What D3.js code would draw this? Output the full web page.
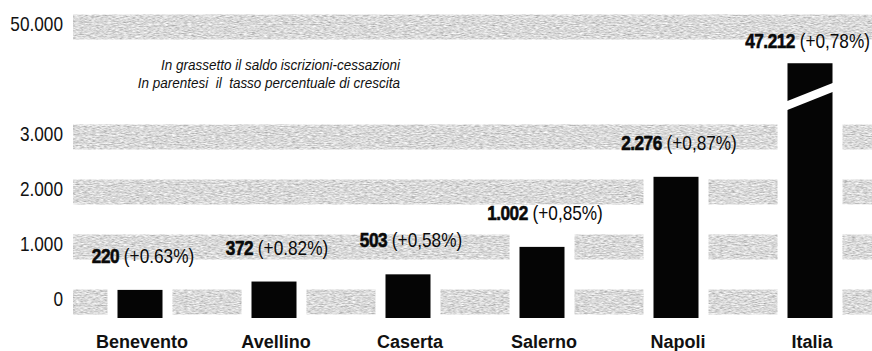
<!DOCTYPE html>
<html>
<head>
<meta charset="utf-8">
<script src="https://cdn.jsdelivr.net/npm/d3@7"></script>
<style>
  body { margin: 0; background: #fff; }
  svg { display: block; }
  text { font-family: "Liberation Sans", Arial, sans-serif; }
</style>
</head>
<body>
<div id="chart"></div>
<script>
const categories = ['Benevento', 'Avellino', 'Caserta', 'Salerno', 'Napoli', 'Italia'];
const saldo = [220, 372, 503, 1002, 2276, 47212];
const tasso = ['+0.63%', '+0.82%', '+0,58%', '+0,85%', '+0,87%', '+0,78%'];
const tickValues = [0, 1000, 2000, 3000, 50000];
const noteLines = [
    'In grassetto il saldo iscrizioni-cessazioni',
    'In parentesi  il  tasso percentuale di crescita'
];

const width = 872;
const height = 351;
const breakAt = 3000;
const narrow = 0.82;   // no condensed face installed, squeeze Liberation Sans

const it = d3.formatLocale({ decimal: ',', thousands: '.', grouping: [3], currency: ['', ' €'] });
const fmt = it.format(',');

const x = d3.scalePoint().domain(categories).range([140, 810]);
const yLow = d3.scaleLinear().domain([0, breakAt]).range([302, 137]);
const yHigh = d3.scaleLinear().domain([45000, 50000]).range([92, 27]);
const y = v => v > breakAt ? yHigh(v) : yLow(v);

const barWidth = 45;
const barBottom = yLow(0) + 16;
const bandHeight = 25;
const bandGap = 10;
const bandStart = 73;

const data = categories.map((c, i) => ({ name: c, value: saldo[i], rate: tasso[i] }));

const svg = d3.select('#chart')
    .append('svg')
    .attr('width', width)
    .attr('height', height);

// scanned grey texture for the bands
const filter = svg.append('defs').append('filter')
    .attr('id', 'grain')
    .attr('x', 0).attr('y', 0).attr('width', 1).attr('height', 1);
filter.append('feTurbulence')
    .attr('type', 'fractalNoise')
    .attr('baseFrequency', '0.25 0.9')
    .attr('numOctaves', 2)
    .attr('seed', 7)
    .attr('result', 'noise');
filter.append('feColorMatrix')
    .attr('in', 'noise')
    .attr('type', 'matrix')
    .attr('values', '0.85 0 0 0 0.27  0.85 0 0 0 0.27  0.85 0 0 0 0.27  0 0 0 0 1')
    .attr('result', 'grey');
filter.append('feComposite')
    .attr('in', 'grey')
    .attr('in2', 'SourceAlpha')
    .attr('operator', 'in');

// bands, broken where a bar passes through them
let segments = [];
tickValues.forEach(t => {
    let gaps = data.filter(d => d.value >= t)
        .map(d => [x(d.name) - barWidth / 2 - bandGap, x(d.name) + barWidth / 2 + bandGap])
        .sort((a, b) => a[0] - b[0]);
    let start = bandStart;
    gaps.forEach(g => {
        if (g[0] > start) segments.push({ t: t, x0: start, x1: g[0] });
        start = Math.max(start, g[1]);
    });
    if (start < width) segments.push({ t: t, x0: start, x1: width });
});

svg.append('g')
    .selectAll('rect')
    .data(segments)
    .enter().append('rect')
    .attr('x', d => d.x0)
    .attr('y', d => y(d.t) - bandHeight / 2)
    .attr('width', d => d.x1 - d.x0)
    .attr('height', bandHeight)
    .style('fill', '#bbb')
    .attr('filter', 'url(#grain)');

svg.append('g')
    .selectAll('text')
    .data(tickValues)
    .enter().append('text')
    .attr('transform', d => `translate(63,${y(d) + 4}) scale(${narrow},1)`)
    .attr('text-anchor', 'end')
    .style('font-size', '21px')
    .style('fill', '#111')
    .text(d => fmt(d));

// bars
svg.append('g')
    .selectAll('rect')
    .data(data)
    .enter().append('rect')
    .attr('x', d => x(d.name) - barWidth / 2)
    .attr('y', d => y(d.value))
    .attr('width', barWidth)
    .attr('height', d => barBottom - y(d.value))
    .style('fill', '#050505');

// axis break on the bars above the break value
const breakY = yHigh(45000) + 4.5;
svg.append('g')
    .selectAll('polygon')
    .data(data.filter(d => d.value > breakAt))
    .enter().append('polygon')
    .attr('points', d => {
        let l = x(d.name) - barWidth / 2 - 2;
        let r = x(d.name) + barWidth / 2 + 2;
        let rise = 0.4 * (r - l) / 2;
        return [
            [l, breakY + rise - 4.5], [r, breakY - rise - 4.5],
            [r, breakY - rise + 4.5], [l, breakY + rise + 4.5]
        ].join(' ');
    })
    .style('fill', '#fff');

// value labels
const labels = svg.append('g')
    .selectAll('text')
    .data(data)
    .enter().append('text')
    .attr('text-anchor', 'middle')
    .style('font-size', '21px')
    .style('fill', '#0a0a0a');
labels.append('tspan')
    .style('font-weight', 'bold')
    .style('letter-spacing', '-0.6px')
    .style('stroke', '#0a0a0a')
    .style('stroke-width', '0.6px')
    .text(d => fmt(d.value));
labels.append('tspan')
    .text(d => ' (' + d.rate + ')');
labels.attr('transform', function (d) {
    let half = this.getComputedTextLength() * narrow / 2;
    let cx = Math.min(x(d.name) + 3, width - 2 - half);
    let by = y(d.value) - (d.value > breakAt ? 15 : 27);
    return `translate(${cx},${by}) scale(${narrow},1)`;
});

// category names
svg.append('g')
    .selectAll('text')
    .data(categories)
    .enter().append('text')
    .attr('x', d => x(d) + 2)
    .attr('y', 348)
    .attr('text-anchor', 'middle')
    .style('font-weight', 'bold')
    .style('font-size', '18px')
    .style('fill', '#111')
    .text(d => d);

// note
svg.append('g')
    .selectAll('text')
    .data(noteLines)
    .enter().append('text')
    .attr('transform', (d, i) => `translate(400,${70 + i * 18}) scale(0.9,1)`)
    .attr('text-anchor', 'end')
    .style('font-style', 'italic')
    .style('font-size', '15px')
    .style('white-space', 'pre')
    .style('fill', '#111')
    .text(d => d);
</script>
</body>
</html>
